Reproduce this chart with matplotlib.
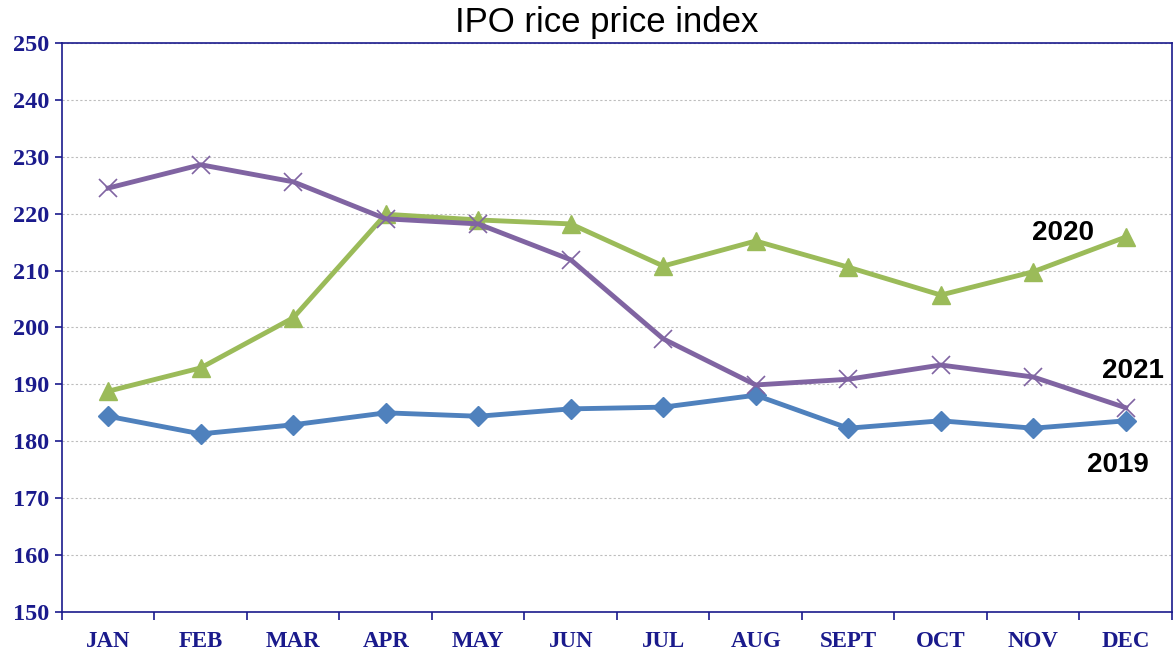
import matplotlib.pyplot as plt
import numpy as np

months = ['JAN', 'FEB', 'MAR', 'APR', 'MAY', 'JUN', 'JUL', 'AUG', 'SEPT', 'OCT', 'NOV', 'DEC']
y2019 = [184.4, 181.3, 182.9, 185.0, 184.4, 185.7, 186.0, 188.1, 182.3, 183.6, 182.3, 183.6]
y2020 = [188.8, 192.9, 201.7, 219.9, 218.9, 218.2, 210.8, 215.2, 210.6, 205.7, 209.8, 215.9]
y2021 = [224.5, 228.6, 225.6, 219.1, 218.2, 211.9, 198.0, 189.9, 190.9, 193.4, 191.3, 185.9]

navy = '#1a1a8c'

fig = plt.figure(figsize=(11.76, 6.51), dpi=100)
ax = fig.add_axes([0.0527, 0.0599, 0.9439, 0.8741])

x = np.arange(len(months))
ax.plot(x, y2019, color='#4F81BD', lw=3.5, marker='D', ms=10, zorder=3)
ax.plot(x, y2020, color='#9BBB59', lw=3.5, marker='^', ms=13, zorder=3)
ax.plot(x, y2021, color='#8064A2', lw=3.5, marker='x', ms=13, mew=1.2, zorder=4)

ax.set_xlim(-0.5, 11.5)
ax.set_ylim(150, 250)
ax.set_yticks(np.arange(150, 251, 10))
ax.grid(axis='y', color='#bdbdbd', ls=(0, (2, 2)), lw=0.8)
ax.set_axisbelow(True)

ax.set_xticks(x)
ax.set_xticklabels(months)
ax.set_xticks(np.arange(-0.5, 12, 1), minor=True)
ax.tick_params(axis='x', which='major', length=0, pad=14)
ax.tick_params(axis='x', which='minor', length=6, color=navy, width=1.2, direction='out')
ax.tick_params(axis='y', length=5, color=navy, width=1.2, pad=4)
for lab in ax.get_xticklabels():
    lab.set_fontsize(16.5)
for lab in ax.get_yticklabels():
    lab.set_fontsize(17.5)
for lab in ax.get_xticklabels() + ax.get_yticklabels():
    lab.set_fontfamily('Liberation Serif')
    lab.set_fontweight('bold')
    lab.set_color(navy)

for s in ax.spines.values():
    s.set_color(navy)
    s.set_linewidth(1.2)

ax.set_title('IPO rice price index', fontsize=25, fontfamily='Liberation Sans', pad=8, x=0.491)

lab_kw = dict(fontsize=20, fontweight='bold', fontfamily='Liberation Sans', ha='center', va='center')
ax.text(10.32, 216.6, '2020', **lab_kw)
ax.text(11.08, 192.4, '2021', **lab_kw)
ax.text(10.92, 175.8, '2019', **lab_kw)

plt.savefig('out.png', dpi=100)
